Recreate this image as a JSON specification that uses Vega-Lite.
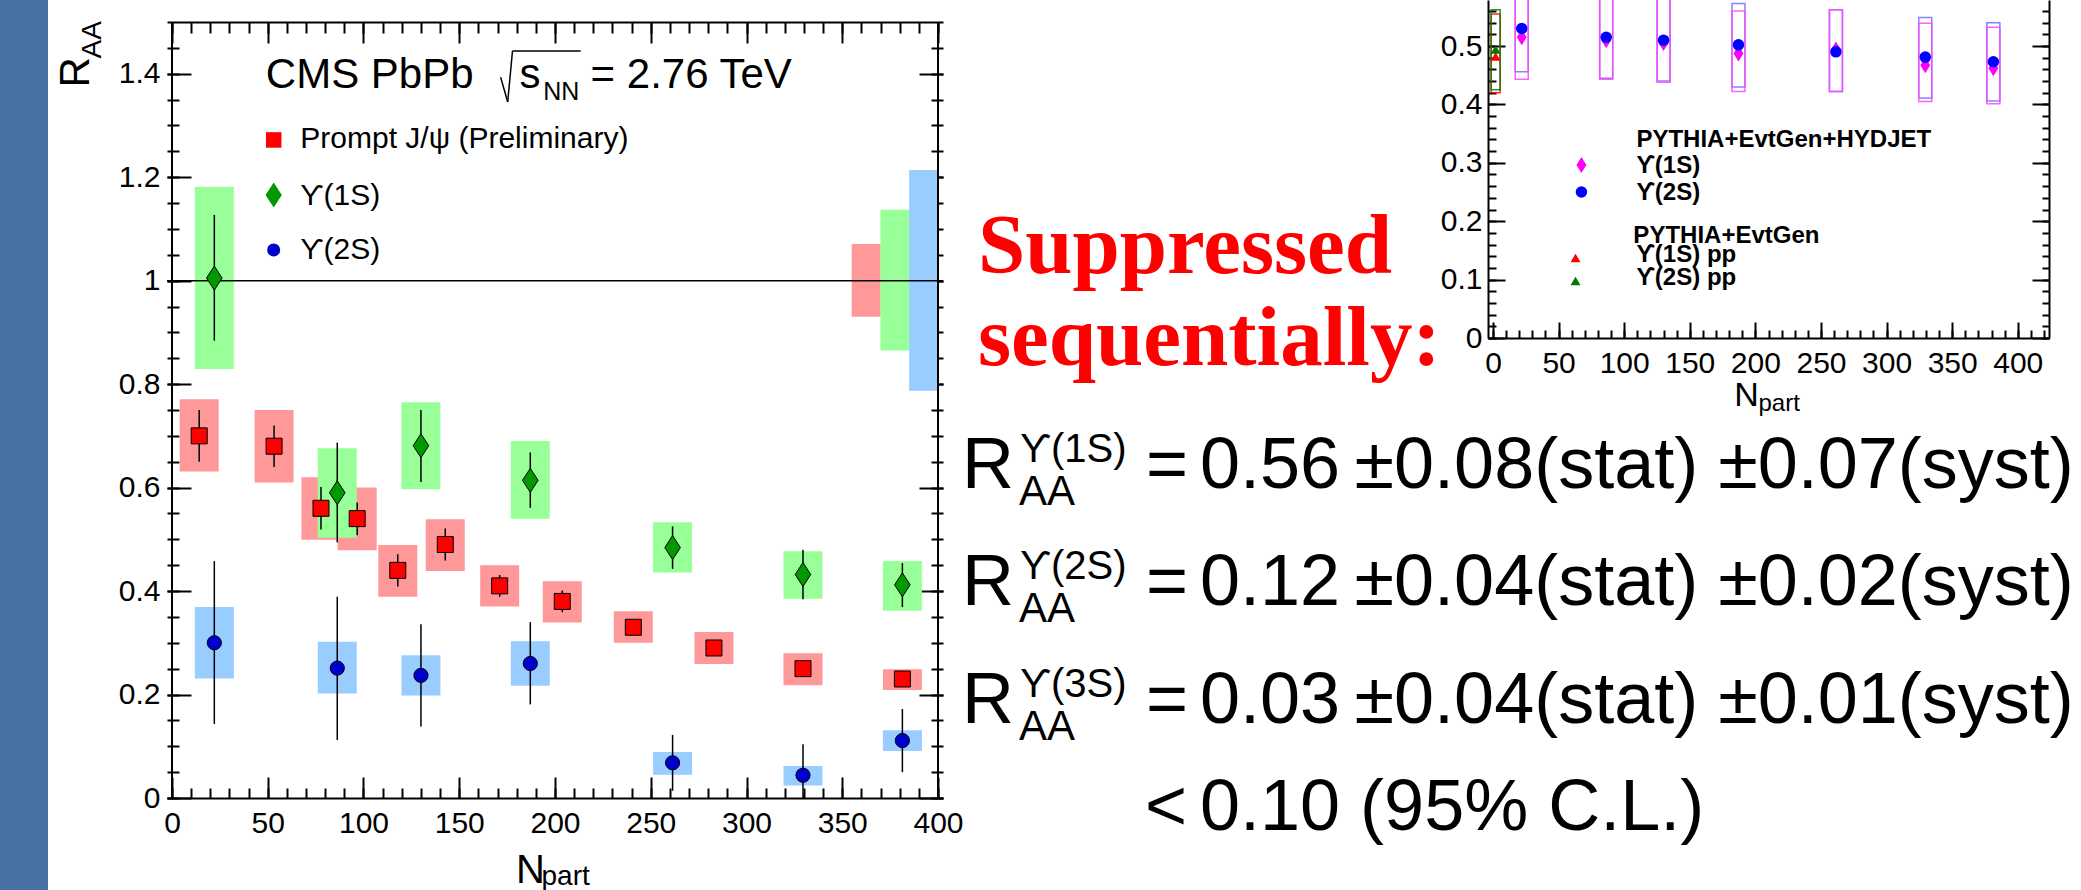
{
  "$schema": "https://vega.github.io/schema/vega-lite/v6.json",
  "background": "#ffffff",
  "padding": 0,
  "spacing": 0,
  "bounds": "flush",
  "datasets": {
    "main": [
      {"series": "jpsi", "npart": 14.2, "raa": 0.70, "stat_lo": 0.65, "stat_hi": 0.75, "syst_lo": 0.631, "syst_hi": 0.771},
      {"series": "jpsi", "npart": 53.3, "raa": 0.68, "stat_lo": 0.64, "stat_hi": 0.72, "syst_lo": 0.61, "syst_hi": 0.75},
      {"series": "jpsi", "npart": 77.8, "raa": 0.56, "stat_lo": 0.519, "stat_hi": 0.601, "syst_lo": 0.499, "syst_hi": 0.62},
      {"series": "jpsi", "npart": 96.7, "raa": 0.54, "stat_lo": 0.508, "stat_hi": 0.571, "syst_lo": 0.479, "syst_hi": 0.60},
      {"series": "jpsi", "npart": 117.9, "raa": 0.44, "stat_lo": 0.409, "stat_hi": 0.471, "syst_lo": 0.389, "syst_hi": 0.489},
      {"series": "jpsi", "npart": 142.7, "raa": 0.49, "stat_lo": 0.459, "stat_hi": 0.521, "syst_lo": 0.439, "syst_hi": 0.539},
      {"series": "jpsi", "npart": 171.1, "raa": 0.41, "stat_lo": 0.389, "stat_hi": 0.431, "syst_lo": 0.37, "syst_hi": 0.45},
      {"series": "jpsi", "npart": 203.8, "raa": 0.38, "stat_lo": 0.359, "stat_hi": 0.401, "syst_lo": 0.339, "syst_hi": 0.419},
      {"series": "jpsi", "npart": 240.9, "raa": 0.33, "stat_lo": 0.32, "stat_hi": 0.34, "syst_lo": 0.30, "syst_hi": 0.361},
      {"series": "jpsi", "npart": 283.0, "raa": 0.29, "stat_lo": 0.28, "stat_hi": 0.30, "syst_lo": 0.259, "syst_hi": 0.321},
      {"series": "jpsi", "npart": 329.5, "raa": 0.25, "stat_lo": 0.24, "stat_hi": 0.26, "syst_lo": 0.218, "syst_hi": 0.28},
      {"series": "jpsi", "npart": 381.4, "raa": 0.23, "stat_lo": 0.22, "stat_hi": 0.24, "syst_lo": 0.209, "syst_hi": 0.249},
      {"series": "y1s", "npart": 22.1, "raa": 1.005, "stat_lo": 0.884, "stat_hi": 1.127, "syst_lo": 0.829, "syst_hi": 1.181},
      {"series": "y1s", "npart": 86.3, "raa": 0.59, "stat_lo": 0.494, "stat_hi": 0.687, "syst_lo": 0.503, "syst_hi": 0.676},
      {"series": "y1s", "npart": 130.0, "raa": 0.681, "stat_lo": 0.611, "stat_hi": 0.75, "syst_lo": 0.597, "syst_hi": 0.765},
      {"series": "y1s", "npart": 187.1, "raa": 0.614, "stat_lo": 0.561, "stat_hi": 0.668, "syst_lo": 0.54, "syst_hi": 0.69},
      {"series": "y1s", "npart": 261.4, "raa": 0.484, "stat_lo": 0.443, "stat_hi": 0.525, "syst_lo": 0.436, "syst_hi": 0.533},
      {"series": "y1s", "npart": 329.5, "raa": 0.432, "stat_lo": 0.384, "stat_hi": 0.48, "syst_lo": 0.385, "syst_hi": 0.477},
      {"series": "y1s", "npart": 381.4, "raa": 0.412, "stat_lo": 0.369, "stat_hi": 0.454, "syst_lo": 0.362, "syst_hi": 0.458},
      {"series": "y2s", "npart": 22.1, "raa": 0.30, "stat_lo": 0.143, "stat_hi": 0.458, "syst_lo": 0.231, "syst_hi": 0.369},
      {"series": "y2s", "npart": 86.3, "raa": 0.251, "stat_lo": 0.112, "stat_hi": 0.389, "syst_lo": 0.202, "syst_hi": 0.302},
      {"series": "y2s", "npart": 130.0, "raa": 0.237, "stat_lo": 0.138, "stat_hi": 0.336, "syst_lo": 0.198, "syst_hi": 0.276},
      {"series": "y2s", "npart": 187.1, "raa": 0.26, "stat_lo": 0.181, "stat_hi": 0.34, "syst_lo": 0.217, "syst_hi": 0.303},
      {"series": "y2s", "npart": 261.4, "raa": 0.068, "stat_lo": 0.014, "stat_hi": 0.122, "syst_lo": 0.045, "syst_hi": 0.089},
      {"series": "y2s", "npart": 329.5, "raa": 0.044, "stat_lo": 0.0, "stat_hi": 0.104, "syst_lo": 0.024, "syst_hi": 0.062},
      {"series": "y2s", "npart": 381.4, "raa": 0.111, "stat_lo": 0.05, "stat_hi": 0.172, "syst_lo": 0.091, "syst_hi": 0.131}
    ],
    "glob": [
      {"series": "jpsi", "npart": 362.5, "lo": 0.93, "hi": 1.071},
      {"series": "y1s", "npart": 377.5, "lo": 0.865, "hi": 1.137},
      {"series": "y2s", "npart": 392.5, "lo": 0.787, "hi": 1.214}
    ],
    "inset": [
      {"series": "hyd2s", "npart": 21.9, "eff": 0.530, "lo": 0.456, "hi": 0.61},
      {"series": "hyd2s", "npart": 86.3, "eff": 0.515, "lo": 0.445, "hi": 0.60},
      {"series": "hyd2s", "npart": 130.0, "eff": 0.510, "lo": 0.440, "hi": 0.60},
      {"series": "hyd2s", "npart": 187.1, "eff": 0.502, "lo": 0.430, "hi": 0.573},
      {"series": "hyd2s", "npart": 261.4, "eff": 0.490, "lo": 0.422, "hi": 0.562},
      {"series": "hyd2s", "npart": 329.5, "eff": 0.481, "lo": 0.411, "hi": 0.549},
      {"series": "hyd2s", "npart": 381.4, "eff": 0.473, "lo": 0.406, "hi": 0.540},
      {"series": "hyd1s", "npart": 21.9, "eff": 0.515, "lo": 0.443, "hi": 0.60},
      {"series": "hyd1s", "npart": 86.3, "eff": 0.510, "lo": 0.443, "hi": 0.60},
      {"series": "hyd1s", "npart": 130.0, "eff": 0.505, "lo": 0.438, "hi": 0.60},
      {"series": "hyd1s", "npart": 187.1, "eff": 0.487, "lo": 0.422, "hi": 0.560},
      {"series": "hyd1s", "npart": 261.4, "eff": 0.494, "lo": 0.422, "hi": 0.562},
      {"series": "hyd1s", "npart": 329.5, "eff": 0.467, "lo": 0.405, "hi": 0.539},
      {"series": "hyd1s", "npart": 381.4, "eff": 0.462, "lo": 0.401, "hi": 0.532},
      {"series": "pp1s", "npart": 2, "eff": 0.482, "lo": 0.420, "hi": 0.555},
      {"series": "pp2s", "npart": 2, "eff": 0.494, "lo": 0.425, "hi": 0.562}
    ],
    "eq": [
      {"state": "ϒ(1S)", "value": "0.56\u2009±0.08(stat) ±0.07(syst)"},
      {"state": "ϒ(2S)", "value": "0.12\u2009±0.04(stat) ±0.02(syst)"},
      {"state": "ϒ(3S)", "value": "0.03\u2009±0.04(stat) ±0.01(syst)"}
    ]
  },
  "hconcat": [
    {"width": 48, "height": 890, "view": {"fill": "#4872a4", "stroke": null}, "data": {"values": []}, "mark": "point"},
    {"width": 119, "height": 1, "data": {"values": []}, "mark": "point"},
    {
      "width": 776,
      "height": 798,
      "resolve": {"axis": {"x": "independent", "y": "independent"}, "scale": {"fill": "independent", "shape": "independent", "size": "independent"}},
      "layer": [
        {
          "data": {"name": "main"},
          "mark": {"type": "bar", "width": 39},
          "encoding": {
            "x": {"field": "npart", "type": "quantitative", "scale": {"domain": [0, 400], "nice": false, "zero": false},
              "axis": {"orient": "bottom", "values": [0, 50, 100, 150, 200, 250, 300, 350, 400], "tickSize": -21, "labelFontSize": 30, "labelPadding": 31, "domain": true, "title": "N", "titleFontSize": 40, "titleX": 363, "titleY": 84, "titleAlign": "center", "titleBaseline": "alphabetic", "titleAngle": 0}},
            "y": {"field": "syst_lo", "type": "quantitative", "scale": {"domain": [0, 1.5425], "nice": false, "zero": false},
              "axis": {"orient": "left", "values": [0, 0.2, 0.4, 0.6, 0.8, 1, 1.2, 1.4], "tickSize": -24, "labelFontSize": 30, "labelPadding": 31, "labelExpr": "'' + datum.value", "domain": false, "title": "R", "titleFontSize": 42, "titleAngle": 270, "titleAlign": "left", "titleBaseline": "alphabetic", "titleX": -79, "titleY": 87}},
            "y2": {"field": "syst_hi"},
            "fill": {"field": "series", "type": "nominal", "scale": {"domain": ["jpsi", "y1s", "y2s"], "range": ["#ff9999", "#99ff99", "#99ccff"]}, "legend": null}
          }
        },
        {
          "data": {"name": "glob"},
          "mark": {"type": "bar", "width": 29},
          "encoding": {
            "x": {"field": "npart", "type": "quantitative", "scale": {"domain": [0, 400], "nice": false, "zero": false},
              "axis": {"orient": "top", "offset": -22, "values": [0, 10, 20, 30, 40, 50, 60, 70, 80, 90, 100, 110, 120, 130, 140, 150, 160, 170, 180, 190, 200, 210, 220, 230, 240, 250, 260, 270, 280, 290, 300, 310, 320, 330, 340, 350, 360, 370, 380, 390, 400], "tickSize": -11, "labels": false, "domain": false, "title": null}},
            "y": {"field": "lo", "type": "quantitative", "scale": {"domain": [0, 1.5425], "nice": false, "zero": false},
              "axis": {"orient": "right", "values": [0, 0.05, 0.1, 0.15, 0.2, 0.25, 0.3, 0.35, 0.4, 0.45, 0.5, 0.55, 0.6, 0.65, 0.7, 0.75, 0.8, 0.85, 0.9, 0.95, 1, 1.05, 1.1, 1.15, 1.2, 1.25, 1.3, 1.35, 1.4, 1.45], "tickSize": -12, "labels": false, "domain": false, "title": null}},
            "y2": {"field": "hi"},
            "fill": {"field": "series", "type": "nominal", "scale": {"domain": ["jpsi", "y1s", "y2s"], "range": ["#ff9999", "#99ff99", "#99ccff"]}, "legend": null}
          }
        },
        {
          "data": {"values": [{}]},
          "mark": {"type": "rule", "color": "#000000", "strokeWidth": 1.5},
          "encoding": {"y": {"datum": 1, "type": "quantitative", "scale": {"domain": [0, 1.5425], "nice": false, "zero": false}, "axis": null}}
        },
        {
          "data": {"values": [{}]},
          "mark": {"type": "rule", "color": "#000000", "strokeWidth": 2},
          "encoding": {
            "x": {"datum": 0, "type": "quantitative", "scale": {"domain": [0, 400], "nice": false, "zero": false}, "axis": null},
            "y": {"datum": 0, "type": "quantitative", "scale": {"domain": [0, 1.5425], "nice": false, "zero": false}, "axis": null},
            "y2": {"datum": 1.5}
          }
        },
        {
          "data": {"values": [{}]},
          "mark": {"type": "rule", "color": "#000000", "strokeWidth": 2},
          "encoding": {
            "x": {"datum": 400, "type": "quantitative", "scale": {"domain": [0, 400], "nice": false, "zero": false}, "axis": null},
            "y": {"datum": 0, "type": "quantitative", "scale": {"domain": [0, 1.5425], "nice": false, "zero": false}, "axis": null},
            "y2": {"datum": 1.5}
          }
        },
        {
          "data": {"name": "main"},
          "mark": {"type": "rule", "color": "#000000", "strokeWidth": 1.5},
          "encoding": {
            "x": {"field": "npart", "type": "quantitative", "scale": {"domain": [0, 400], "nice": false, "zero": false},
              "axis": {"orient": "bottom", "values": [0, 10, 20, 30, 40, 50, 60, 70, 80, 90, 100, 110, 120, 130, 140, 150, 160, 170, 180, 190, 200, 210, 220, 230, 240, 250, 260, 270, 280, 290, 300, 310, 320, 330, 340, 350, 360, 370, 380, 390, 400], "tickSize": -10, "labels": false, "domain": false, "title": "part", "titleFontSize": 28, "titleX": 374, "titleY": 86, "titleAlign": "left", "titleBaseline": "alphabetic", "titleAngle": 0}},
            "y": {"field": "stat_lo", "type": "quantitative", "scale": {"domain": [0, 1.5425], "nice": false, "zero": false},
              "axis": {"orient": "left", "values": [0, 0.05, 0.1, 0.15, 0.2, 0.25, 0.3, 0.35, 0.4, 0.45, 0.5, 0.55, 0.6, 0.65, 0.7, 0.75, 0.8, 0.85, 0.9, 0.95, 1, 1.05, 1.1, 1.15, 1.2, 1.25, 1.3, 1.35, 1.4, 1.45], "tickSize": -12, "labels": false, "domain": false, "title": null}},
            "y2": {"field": "stat_hi"}
          }
        },
        {
          "data": {"name": "main"},
          "mark": {"type": "point", "filled": true, "stroke": "#000000", "strokeWidth": 1, "opacity": 1},
          "encoding": {
            "x": {"field": "npart", "type": "quantitative", "scale": {"domain": [0, 400], "nice": false, "zero": false},
              "axis": {"orient": "top", "offset": -22, "values": [0, 50, 100, 150, 200, 250, 300, 350, 400], "tickSize": -21, "labels": false, "domain": true, "title": null}},
            "y": {"field": "raa", "type": "quantitative", "scale": {"domain": [0, 1.5425], "nice": false, "zero": false},
              "axis": {"orient": "right", "values": [0, 0.2, 0.4, 0.6, 0.8, 1, 1.2, 1.4], "tickSize": -24, "labels": false, "domain": false, "title": "AA", "titleFontSize": 28, "titleAngle": 270, "titleAlign": "left", "titleBaseline": "alphabetic", "titleX": -843, "titleY": 58}},
            "shape": {"field": "series", "type": "nominal", "scale": {"domain": ["jpsi", "y1s", "y2s"], "range": ["square", "M0,-1L0.65,0L0,1L-0.65,0Z", "circle"]}, "legend": null},
            "fill": {"field": "series", "type": "nominal", "scale": {"domain": ["jpsi", "y1s", "y2s"], "range": ["#ff0000", "#009900", "#0000cc"]}, "legend": null},
            "size": {"field": "series", "type": "nominal", "scale": {"type": "ordinal", "domain": ["jpsi", "y1s", "y2s"], "range": [256, 576, 201]}, "legend": null}
          }
        },
        {
          "data": {"values": [{}]},
          "mark": {"type": "rule", "color": "#000000", "strokeWidth": 1.5},
          "encoding": {
            "x": {"datum": 171.6, "type": "quantitative", "scale": {"domain": [0, 400], "nice": false, "zero": false}, "axis": null},
            "y": {"datum": 1.3934, "type": "quantitative", "scale": {"domain": [0, 1.5425], "nice": false, "zero": false}, "axis": null},
            "x2": {"datum": 175.3},
            "y2": {"datum": 1.3454}
          }
        },
        {
          "data": {"values": [{}]},
          "mark": {"type": "rule", "color": "#000000", "strokeWidth": 1.5},
          "encoding": {
            "x": {"datum": 175.3, "type": "quantitative", "scale": {"domain": [0, 400], "nice": false, "zero": false}, "axis": null},
            "y": {"datum": 1.3454, "type": "quantitative", "scale": {"domain": [0, 1.5425], "nice": false, "zero": false}, "axis": null},
            "x2": {"datum": 177.8},
            "y2": {"datum": 1.444}
          }
        },
        {
          "data": {"values": [{}]},
          "mark": {"type": "rule", "color": "#000000", "strokeWidth": 1.5},
          "encoding": {
            "x": {"datum": 177.8, "type": "quantitative", "scale": {"domain": [0, 400], "nice": false, "zero": false}, "axis": null},
            "y": {"datum": 1.444, "type": "quantitative", "scale": {"domain": [0, 1.5425], "nice": false, "zero": false}, "axis": null},
            "x2": {"datum": 213.4},
            "y2": {"datum": 1.444}
          }
        },
        {
          "data": {"values": [{}]},
          "mark": {"type": "text", "font": "Liberation Sans", "fontSize": 42, "align": "left", "baseline": "alphabetic", "color": "#000000"},
          "encoding": {
            "x": {"datum": 49.0, "type": "quantitative", "scale": {"domain": [0, 400], "nice": false, "zero": false}, "axis": null},
            "y": {"datum": 1.3725, "type": "quantitative", "scale": {"domain": [0, 1.5425], "nice": false, "zero": false}, "axis": null},
            "text": {"value": "CMS PbPb"}
          }
        },
        {
          "data": {"values": [{}]},
          "mark": {"type": "text", "font": "Liberation Sans", "fontSize": 42, "align": "left", "baseline": "alphabetic", "color": "#000000"},
          "encoding": {
            "x": {"datum": 181.4, "type": "quantitative", "scale": {"domain": [0, 400], "nice": false, "zero": false}, "axis": null},
            "y": {"datum": 1.3725, "type": "quantitative", "scale": {"domain": [0, 1.5425], "nice": false, "zero": false}, "axis": null},
            "text": {"value": "s"}
          }
        },
        {
          "data": {"values": [{}]},
          "mark": {"type": "text", "font": "Liberation Sans", "fontSize": 25, "align": "left", "baseline": "alphabetic", "color": "#000000"},
          "encoding": {
            "x": {"datum": 193.8, "type": "quantitative", "scale": {"domain": [0, 400], "nice": false, "zero": false}, "axis": null},
            "y": {"datum": 1.3493, "type": "quantitative", "scale": {"domain": [0, 1.5425], "nice": false, "zero": false}, "axis": null},
            "text": {"value": "NN"}
          }
        },
        {
          "data": {"values": [{}]},
          "mark": {"type": "text", "font": "Liberation Sans", "fontSize": 42, "align": "left", "baseline": "alphabetic", "color": "#000000"},
          "encoding": {
            "x": {"datum": 218.6, "type": "quantitative", "scale": {"domain": [0, 400], "nice": false, "zero": false}, "axis": null},
            "y": {"datum": 1.3725, "type": "quantitative", "scale": {"domain": [0, 1.5425], "nice": false, "zero": false}, "axis": null},
            "text": {"value": "= 2.76 TeV"}
          }
        },
        {
          "data": {"values": [{}]},
          "mark": {"type": "point", "shape": "square", "size": 240, "filled": true, "fill": "#ff0000", "opacity": 1},
          "encoding": {
            "x": {"datum": 53.1, "type": "quantitative", "scale": {"domain": [0, 400], "nice": false, "zero": false}, "axis": null},
            "y": {"datum": 1.272, "type": "quantitative", "scale": {"domain": [0, 1.5425], "nice": false, "zero": false}, "axis": null}
          }
        },
        {
          "data": {"values": [{}]},
          "mark": {"type": "point", "shape": "M0,-1L0.65,0L0,1L-0.65,0Z", "size": 625, "filled": true, "fill": "#009900", "opacity": 1},
          "encoding": {
            "x": {"datum": 53.1, "type": "quantitative", "scale": {"domain": [0, 400], "nice": false, "zero": false}, "axis": null},
            "y": {"datum": 1.1657, "type": "quantitative", "scale": {"domain": [0, 1.5425], "nice": false, "zero": false}, "axis": null}
          }
        },
        {
          "data": {"values": [{}]},
          "mark": {"type": "point", "shape": "circle", "size": 170, "filled": true, "fill": "#0000cc", "opacity": 1},
          "encoding": {
            "x": {"datum": 53.1, "type": "quantitative", "scale": {"domain": [0, 400], "nice": false, "zero": false}, "axis": null},
            "y": {"datum": 1.0593, "type": "quantitative", "scale": {"domain": [0, 1.5425], "nice": false, "zero": false}, "axis": null}
          }
        },
        {
          "data": {"values": [{}]},
          "mark": {"type": "text", "font": "Liberation Sans", "fontSize": 30, "align": "left", "baseline": "alphabetic", "color": "#000000"},
          "encoding": {
            "x": {"datum": 67.0, "type": "quantitative", "scale": {"domain": [0, 400], "nice": false, "zero": false}, "axis": null},
            "y": {"datum": 1.2565, "type": "quantitative", "scale": {"domain": [0, 1.5425], "nice": false, "zero": false}, "axis": null},
            "text": {"value": "Prompt J/ψ (Preliminary)"}
          }
        },
        {
          "data": {"values": [{}]},
          "mark": {"type": "text", "font": "Liberation Sans", "fontSize": 30, "align": "left", "baseline": "alphabetic", "color": "#000000"},
          "encoding": {
            "x": {"datum": 67.0, "type": "quantitative", "scale": {"domain": [0, 400], "nice": false, "zero": false}, "axis": null},
            "y": {"datum": 1.1463, "type": "quantitative", "scale": {"domain": [0, 1.5425], "nice": false, "zero": false}, "axis": null},
            "text": {"value": "ϒ(1S)"}
          }
        },
        {
          "data": {"values": [{}]},
          "mark": {"type": "text", "font": "Liberation Sans", "fontSize": 30, "align": "left", "baseline": "alphabetic", "color": "#000000"},
          "encoding": {
            "x": {"datum": 67.0, "type": "quantitative", "scale": {"domain": [0, 400], "nice": false, "zero": false}, "axis": null},
            "y": {"datum": 1.042, "type": "quantitative", "scale": {"domain": [0, 1.5425], "nice": false, "zero": false}, "axis": null},
            "text": {"value": "ϒ(2S)"}
          }
        }
      ]
    },
    {"width": 17, "height": 1, "data": {"values": []}, "mark": "point"},
    {
      "width": 528,
      "height": 890,
      "layer": [
        {
          "data": {"values": [{}]},
          "mark": {"type": "text", "font": "Liberation Serif", "fontWeight": "bold", "fontSize": 85, "color": "#ff0000", "align": "left", "baseline": "alphabetic", "lineHeight": 92},
          "encoding": {
            "x": {"datum": 0.034, "type": "quantitative", "scale": {"domain": [0, 1], "nice": false, "zero": false}, "axis": null},
            "y": {"datum": 0.6933, "type": "quantitative", "scale": {"domain": [0, 1], "nice": false, "zero": false}, "axis": null},
            "text": {"value": ["Suppressed", "sequentially:"]}
          }
        },
        {
          "data": {"name": "eq"},
          "mark": {"type": "text", "font": "Liberation Sans", "fontSize": 72, "align": "left", "baseline": "alphabetic", "color": "#000000"},
          "encoding": {
            "x": {"datum": 0.0038, "type": "quantitative", "scale": {"domain": [0, 1], "nice": false, "zero": false}, "axis": null},
            "y": {"field": "state", "type": "nominal", "scale": {"type": "point", "domain": ["ϒ(1S)", "ϒ(2S)", "ϒ(3S)", "limit"], "range": [488, 840], "padding": 0}, "axis": null},
            "text": {"value": "R"}
          }
        },
        {
          "data": {"name": "eq"},
          "mark": {"type": "text", "font": "Liberation Sans", "fontSize": 40, "align": "left", "baseline": "alphabetic", "color": "#000000", "dy": -26},
          "encoding": {
            "x": {"datum": 0.1136, "type": "quantitative", "scale": {"domain": [0, 1], "nice": false, "zero": false}, "axis": null},
            "y": {"field": "state", "type": "nominal", "scale": {"type": "point", "domain": ["ϒ(1S)", "ϒ(2S)", "ϒ(3S)", "limit"], "range": [488, 840], "padding": 0}, "axis": null},
            "text": {"field": "state"}
          }
        },
        {
          "data": {"name": "eq"},
          "mark": {"type": "text", "font": "Liberation Sans", "fontSize": 42, "align": "left", "baseline": "alphabetic", "color": "#000000", "dy": 17},
          "encoding": {
            "x": {"datum": 0.1117, "type": "quantitative", "scale": {"domain": [0, 1], "nice": false, "zero": false}, "axis": null},
            "y": {"field": "state", "type": "nominal", "scale": {"type": "point", "domain": ["ϒ(1S)", "ϒ(2S)", "ϒ(3S)", "limit"], "range": [488, 840], "padding": 0}, "axis": null},
            "text": {"value": "AA"}
          }
        },
        {
          "data": {"name": "eq"},
          "mark": {"type": "text", "font": "Liberation Sans", "fontSize": 72, "align": "left", "baseline": "alphabetic", "color": "#000000"},
          "encoding": {
            "x": {"datum": 0.3523, "type": "quantitative", "scale": {"domain": [0, 1], "nice": false, "zero": false}, "axis": null},
            "y": {"field": "state", "type": "nominal", "scale": {"type": "point", "domain": ["ϒ(1S)", "ϒ(2S)", "ϒ(3S)", "limit"], "range": [488, 840], "padding": 0}, "axis": null},
            "text": {"value": "="}
          }
        },
        {
          "data": {"name": "eq"},
          "mark": {"type": "text", "font": "Liberation Sans", "fontSize": 72, "align": "left", "baseline": "alphabetic", "color": "#000000"},
          "encoding": {
            "x": {"datum": 0.4545, "type": "quantitative", "scale": {"domain": [0, 1], "nice": false, "zero": false}, "axis": null},
            "y": {"field": "state", "type": "nominal", "scale": {"type": "point", "domain": ["ϒ(1S)", "ϒ(2S)", "ϒ(3S)", "limit"], "range": [488, 840], "padding": 0}, "axis": null},
            "text": {"field": "value"}
          }
        },
        {
          "data": {"values": [{}]},
          "mark": {"type": "text", "font": "Liberation Sans", "fontSize": 72, "align": "left", "baseline": "alphabetic", "color": "#000000", "dy": -10},
          "encoding": {
            "x": {"datum": 0.3504, "type": "quantitative", "scale": {"domain": [0, 1], "nice": false, "zero": false}, "axis": null},
            "y": {"datum": "limit", "type": "nominal", "scale": {"type": "point", "domain": ["ϒ(1S)", "ϒ(2S)", "ϒ(3S)", "limit"], "range": [488, 840], "padding": 0}, "axis": null},
            "text": {"value": "<"}
          }
        },
        {
          "data": {"values": [{}]},
          "mark": {"type": "text", "font": "Liberation Sans", "fontSize": 72, "align": "left", "baseline": "alphabetic", "color": "#000000", "dy": -10},
          "encoding": {
            "x": {"datum": 0.4545, "type": "quantitative", "scale": {"domain": [0, 1], "nice": false, "zero": false}, "axis": null},
            "y": {"datum": "limit", "type": "nominal", "scale": {"type": "point", "domain": ["ϒ(1S)", "ϒ(2S)", "ϒ(3S)", "limit"], "range": [488, 840], "padding": 0}, "axis": null},
            "text": {"value": "0.10 (95% C.L.)"}
          }
        }
      ]
    },
    {
      "width": 561,
      "height": 338,
      "resolve": {"axis": {"x": "independent", "y": "independent"}},
      "layer": [
        {
          "data": {"name": "inset"},
          "transform": [{"filter": "datum.series === 'hyd2s' || datum.series === 'hyd1s'"}],
          "mark": {"type": "bar", "width": 13, "filled": false, "strokeWidth": 1.5, "strokeOpacity": 0.85, "clip": true},
          "encoding": {
            "x": {"field": "npart", "type": "quantitative", "scale": {"domain": [0, 420], "nice": false, "zero": false},
              "axis": {"orient": "bottom", "values": [0, 50, 100, 150, 200, 250, 300, 350, 400], "tickSize": -16, "labelFontSize": 30, "labelPadding": 26, "domain": true, "title": "N", "titleFontSize": 34, "titleX": 258, "titleY": 67, "titleAlign": "center", "titleBaseline": "alphabetic", "titleAngle": 0}},
            "y": {"field": "lo", "type": "quantitative", "scale": {"domain": [0, 0.5788], "nice": false, "zero": false},
              "axis": {"orient": "left", "values": [0, 0.1, 0.2, 0.3, 0.4, 0.5], "tickSize": -17, "labelFontSize": 30, "labelPadding": 23, "labelExpr": "'' + datum.value", "domain": true, "title": null}},
            "y2": {"field": "hi"},
            "color": {"field": "series", "type": "nominal", "scale": {"domain": ["hyd2s", "hyd1s", "pp1s", "pp2s"], "range": ["#6f6fff", "#ff44ff", "#ff0000", "#008000"]}, "legend": null}
          }
        },
        {
          "data": {"name": "inset"},
          "transform": [{"filter": "datum.series === 'pp1s' || datum.series === 'pp2s'"}],
          "mark": {"type": "bar", "width": 9, "filled": false, "strokeWidth": 1.5, "strokeOpacity": 0.85, "clip": true},
          "encoding": {
            "x": {"field": "npart", "type": "quantitative", "scale": {"domain": [0, 420], "nice": false, "zero": false},
              "axis": {"orient": "bottom", "values": [0, 10, 20, 30, 40, 50, 60, 70, 80, 90, 100, 110, 120, 130, 140, 150, 160, 170, 180, 190, 200, 210, 220, 230, 240, 250, 260, 270, 280, 290, 300, 310, 320, 330, 340, 350, 360, 370, 380, 390, 400, 410, 420], "tickSize": -8, "labels": false, "domain": false, "title": "part", "titleFontSize": 24, "titleX": 270, "titleY": 72, "titleAlign": "left", "titleBaseline": "alphabetic", "titleAngle": 0}},
            "y": {"field": "lo", "type": "quantitative", "scale": {"domain": [0, 0.5788], "nice": false, "zero": false},
              "axis": {"orient": "left", "values": [0, 0.02, 0.04, 0.06, 0.08, 0.1, 0.12, 0.14, 0.16, 0.18, 0.2, 0.22, 0.24, 0.26, 0.28, 0.3, 0.32, 0.34, 0.36, 0.38, 0.4, 0.42, 0.44, 0.46, 0.48, 0.5, 0.52, 0.54, 0.56], "tickSize": -8, "labels": false, "domain": false, "title": null}},
            "y2": {"field": "hi"},
            "color": {"field": "series", "type": "nominal", "scale": {"domain": ["hyd2s", "hyd1s", "pp1s", "pp2s"], "range": ["#6f6fff", "#ff44ff", "#ff0000", "#008000"]}, "legend": null}
          }
        },
        {
          "data": {"name": "inset"},
          "transform": [{"filter": "datum.series === 'hyd1s'"}],
          "mark": {"type": "point", "shape": "M0,-1L0.62,0L0,1L-0.62,0Z", "size": 256, "filled": true, "color": "#ff00ff", "opacity": 1},
          "encoding": {
            "x": {"field": "npart", "type": "quantitative", "scale": {"domain": [0, 420], "nice": false, "zero": false}, "axis": null},
            "y": {"field": "eff", "type": "quantitative", "scale": {"domain": [0, 0.5788], "nice": false, "zero": false},
              "axis": {"orient": "right", "values": [0, 0.1, 0.2, 0.3, 0.4, 0.5], "tickSize": -17, "labels": false, "domain": true, "title": null}}
          }
        },
        {
          "data": {"name": "inset"},
          "transform": [{"filter": "datum.series === 'hyd2s'"}],
          "mark": {"type": "point", "shape": "circle", "size": 133, "filled": true, "color": "#0000ff", "opacity": 1},
          "encoding": {
            "x": {"field": "npart", "type": "quantitative", "scale": {"domain": [0, 420], "nice": false, "zero": false}, "axis": null},
            "y": {"field": "eff", "type": "quantitative", "scale": {"domain": [0, 0.5788], "nice": false, "zero": false},
              "axis": {"orient": "right", "values": [0, 0.02, 0.04, 0.06, 0.08, 0.1, 0.12, 0.14, 0.16, 0.18, 0.2, 0.22, 0.24, 0.26, 0.28, 0.3, 0.32, 0.34, 0.36, 0.38, 0.4, 0.42, 0.44, 0.46, 0.48, 0.5, 0.52, 0.54, 0.56], "tickSize": -7, "labels": false, "domain": false, "title": null}}
          }
        },
        {
          "data": {"name": "inset"},
          "transform": [{"filter": "datum.series === 'pp1s'"}],
          "mark": {"type": "point", "shape": "triangle-up", "size": 100, "filled": true, "color": "#ff0000", "opacity": 1},
          "encoding": {
            "x": {"field": "npart", "type": "quantitative", "scale": {"domain": [0, 420], "nice": false, "zero": false}, "axis": null},
            "y": {"field": "eff", "type": "quantitative", "scale": {"domain": [0, 0.5788], "nice": false, "zero": false}, "axis": null}
          }
        },
        {
          "data": {"name": "inset"},
          "transform": [{"filter": "datum.series === 'pp2s'"}],
          "mark": {"type": "point", "shape": "triangle-up", "size": 100, "filled": true, "color": "#007700", "opacity": 1},
          "encoding": {
            "x": {"field": "npart", "type": "quantitative", "scale": {"domain": [0, 420], "nice": false, "zero": false}, "axis": null},
            "y": {"field": "eff", "type": "quantitative", "scale": {"domain": [0, 0.5788], "nice": false, "zero": false}, "axis": null}
          }
        },
        {
          "data": {"values": [{}]},
          "mark": {"type": "text", "font": "Liberation Sans", "fontWeight": "bold", "fontSize": 24, "align": "left", "baseline": "alphabetic", "color": "#000000"},
          "encoding": {
            "x": {"datum": 109.3, "type": "quantitative", "scale": {"domain": [0, 420], "nice": false, "zero": false}, "axis": null},
            "y": {"datum": 0.327, "type": "quantitative", "scale": {"domain": [0, 0.5788], "nice": false, "zero": false}, "axis": null},
            "text": {"value": "PYTHIA+EvtGen+HYDJET"}
          }
        },
        {
          "data": {"values": [{}]},
          "mark": {"type": "text", "font": "Liberation Sans", "fontWeight": "bold", "fontSize": 24, "align": "left", "baseline": "alphabetic", "color": "#000000"},
          "encoding": {
            "x": {"datum": 109.3, "type": "quantitative", "scale": {"domain": [0, 420], "nice": false, "zero": false}, "axis": null},
            "y": {"datum": 0.2825, "type": "quantitative", "scale": {"domain": [0, 0.5788], "nice": false, "zero": false}, "axis": null},
            "text": {"value": "ϒ(1S)"}
          }
        },
        {
          "data": {"values": [{}]},
          "mark": {"type": "text", "font": "Liberation Sans", "fontWeight": "bold", "fontSize": 24, "align": "left", "baseline": "alphabetic", "color": "#000000"},
          "encoding": {
            "x": {"datum": 109.3, "type": "quantitative", "scale": {"domain": [0, 420], "nice": false, "zero": false}, "axis": null},
            "y": {"datum": 0.2363, "type": "quantitative", "scale": {"domain": [0, 0.5788], "nice": false, "zero": false}, "axis": null},
            "text": {"value": "ϒ(2S)"}
          }
        },
        {
          "data": {"values": [{}]},
          "mark": {"type": "text", "font": "Liberation Sans", "fontWeight": "bold", "fontSize": 24, "align": "left", "baseline": "alphabetic", "color": "#000000"},
          "encoding": {
            "x": {"datum": 107.0, "type": "quantitative", "scale": {"domain": [0, 420], "nice": false, "zero": false}, "axis": null},
            "y": {"datum": 0.1627, "type": "quantitative", "scale": {"domain": [0, 0.5788], "nice": false, "zero": false}, "axis": null},
            "text": {"value": "PYTHIA+EvtGen"}
          }
        },
        {
          "data": {"values": [{}]},
          "mark": {"type": "text", "font": "Liberation Sans", "fontWeight": "bold", "fontSize": 24, "align": "left", "baseline": "alphabetic", "color": "#000000"},
          "encoding": {
            "x": {"datum": 109.3, "type": "quantitative", "scale": {"domain": [0, 420], "nice": false, "zero": false}, "axis": null},
            "y": {"datum": 0.130, "type": "quantitative", "scale": {"domain": [0, 0.5788], "nice": false, "zero": false}, "axis": null},
            "text": {"value": "ϒ(1S) pp"}
          }
        },
        {
          "data": {"values": [{}]},
          "mark": {"type": "text", "font": "Liberation Sans", "fontWeight": "bold", "fontSize": 24, "align": "left", "baseline": "alphabetic", "color": "#000000"},
          "encoding": {
            "x": {"datum": 109.3, "type": "quantitative", "scale": {"domain": [0, 420], "nice": false, "zero": false}, "axis": null},
            "y": {"datum": 0.0908, "type": "quantitative", "scale": {"domain": [0, 0.5788], "nice": false, "zero": false}, "axis": null},
            "text": {"value": "ϒ(2S) pp"}
          }
        },
        {
          "data": {"values": [{}]},
          "mark": {"type": "point", "shape": "M0,-1L0.62,0L0,1L-0.62,0Z", "size": 256, "filled": true, "color": "#ff00ff", "opacity": 1},
          "encoding": {
            "x": {"datum": 67.4, "type": "quantitative", "scale": {"domain": [0, 420], "nice": false, "zero": false}, "axis": null},
            "y": {"datum": 0.2962, "type": "quantitative", "scale": {"domain": [0, 0.5788], "nice": false, "zero": false}, "axis": null}
          }
        },
        {
          "data": {"values": [{}]},
          "mark": {"type": "point", "shape": "circle", "size": 133, "filled": true, "color": "#0000ff", "opacity": 1},
          "encoding": {
            "x": {"datum": 67.4, "type": "quantitative", "scale": {"domain": [0, 420], "nice": false, "zero": false}, "axis": null},
            "y": {"datum": 0.25, "type": "quantitative", "scale": {"domain": [0, 0.5788], "nice": false, "zero": false}, "axis": null}
          }
        },
        {
          "data": {"values": [{}]},
          "mark": {"type": "point", "shape": "triangle-up", "size": 100, "filled": true, "color": "#ff0000", "opacity": 1},
          "encoding": {
            "x": {"datum": 62.9, "type": "quantitative", "scale": {"domain": [0, 420], "nice": false, "zero": false}, "axis": null},
            "y": {"datum": 0.137, "type": "quantitative", "scale": {"domain": [0, 0.5788], "nice": false, "zero": false}, "axis": null}
          }
        },
        {
          "data": {"values": [{}]},
          "mark": {"type": "point", "shape": "triangle-up", "size": 100, "filled": true, "color": "#007700", "opacity": 1},
          "encoding": {
            "x": {"datum": 62.9, "type": "quantitative", "scale": {"domain": [0, 420], "nice": false, "zero": false}, "axis": null},
            "y": {"datum": 0.0976, "type": "quantitative", "scale": {"domain": [0, 0.5788], "nice": false, "zero": false}, "axis": null}
          }
        }
      ]
    }
  ],
  "config": {
    "view": {"stroke": null},
    "concat": {"spacing": 0},
    "axis": {
      "grid": false,
      "labelFlush": false,
      "labelOverlap": false,
      "labelFont": "Liberation Sans",
      "titleFont": "Liberation Sans",
      "titleFontWeight": "normal",
      "labelColor": "#000000",
      "titleColor": "#000000",
      "tickColor": "#000000",
      "domainColor": "#000000",
      "tickWidth": 2,
      "domainWidth": 2
    }
  }
}
